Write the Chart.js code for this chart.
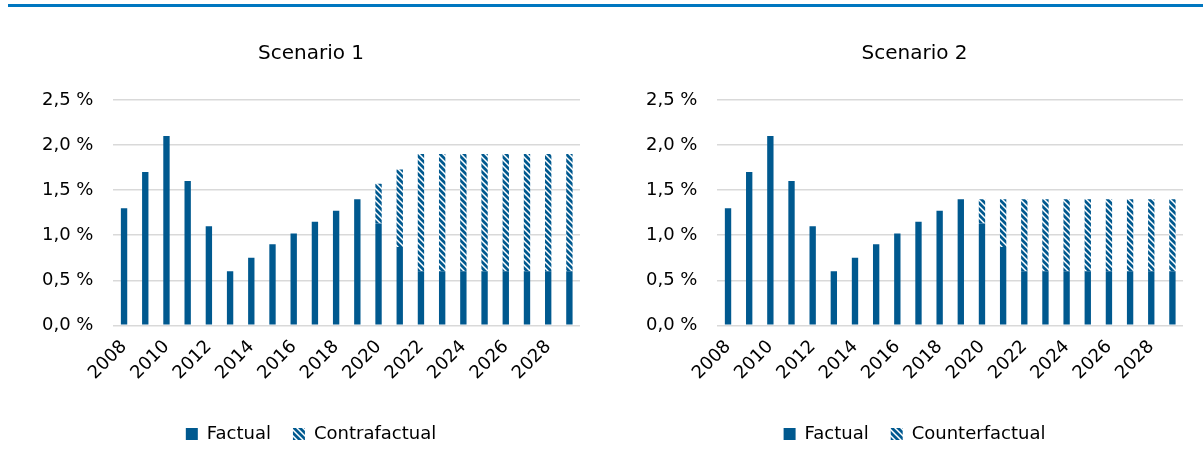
<!DOCTYPE html>
<html>
<head>
<meta charset="utf-8">
<script src="https://cdn.jsdelivr.net/npm/chart.js@4.4.1/dist/chart.umd.min.js"></script>
<style>
  html,body{margin:0;padding:0;background:#fff;}
  body{width:1203px;height:470px;position:relative;overflow:hidden;}
  .topline{position:absolute;left:8px;right:0;top:4px;height:3px;background:#0077c0;}
  .box{position:absolute;top:12px;height:455px;}
  #b1{left:34px;width:568px;}
  #b2{left:638px;width:565px;}
</style>
</head>
<body>
<div class="topline"></div>
<div class="box" id="b1"><canvas id="c1"></canvas></div>
<div class="box" id="b2"><canvas id="c2"></canvas></div>
<script>
// data (values in %)
const years = ['2008','2009','2010','2011','2012','2013','2014','2015','2016','2017','2018',
  '2019','2020','2021','2022','2023','2024','2025','2026','2027','2028','2029'];
const factual = [1.3,1.7,2.1,1.6,1.1,0.6,0.75,0.9,1.02,1.15,1.27,1.4,1.13,0.87,0.6,0.6,0.6,0.6,0.6,0.6,0.6,0.6];
// counterfactual totals (top of the striped part)
const contraTotal1 = [null,null,null,null,null,null,null,null,null,null,null,null,1.57,1.73,1.9,1.9,1.9,1.9,1.9,1.9,1.9,1.9];
const contraTotal2 = [null,null,null,null,null,null,null,null,null,null,null,null,1.4,1.4,1.4,1.4,1.4,1.4,1.4,1.4,1.4,1.4];
const yTicks = [0,0.5,1,1.5,2,2.5];

const BLUE = '#00598f';
const FONT = '"DejaVu Sans", sans-serif';

// blue/white diagonal stripes going "\"
function stripes(){
  const s = 6, c = document.createElement('canvas');
  c.width = s; c.height = s;
  const g = c.getContext('2d');
  g.fillStyle = '#fff'; g.fillRect(0,0,s,s);
  g.strokeStyle = BLUE; g.lineWidth = 2.8;
  g.beginPath();
  g.moveTo(-1,-1); g.lineTo(s+1,s+1);
  g.moveTo(s-1,-1); g.lineTo(s+1,1);
  g.moveTo(-1,s-1); g.lineTo(1,s+1);
  g.stroke();
  return g.createPattern(c,'repeat');
}

function mk(id, title, contraLabel, totals, padR){
  const extra = totals.map((v,i)=> v==null ? null : +(v - factual[i]).toFixed(3));
  return new Chart(document.getElementById(id), {
    type:'bar',
    data:{ labels:years, datasets:[
      { label:'Factual', data:factual, backgroundColor:BLUE, barPercentage:0.3, categoryPercentage:1 },
      { label:contraLabel, data:extra, backgroundColor:stripes(), barPercentage:0.3, categoryPercentage:1 }
    ]},
    options:{
      responsive:true, maintainAspectRatio:false, animation:false,
      layout:{ padding:{ left:8, right:padR, bottom:14 } },
      plugins:{
        title:{ display:true, text:title, color:'#000', font:{ family:FONT, size:20, weight:'normal' }, padding:{ top:30, bottom:34 } },
        legend:{ position:'bottom', labels:{ color:'#000', boxWidth:12, boxHeight:12, padding:22, font:{ family:FONT, size:18 } } },
        tooltip:{ enabled:false }
      },
      scales:{
        x:{ stacked:true,
            grid:{ display:false },
            border:{ display:false },
            afterFit:s=>{ s.height += 16; },
            ticks:{ color:'#000', font:{ family:FONT, size:18 }, autoSkip:false, maxRotation:45, minRotation:45,
                    callback:(v,i)=> i%2===0 ? years[i] : '' } },
        y:{ stacked:true, min:0, max:2.5,
            afterBuildTicks:ax=>{ ax.ticks = yTicks.map(v=>({value:v})); },
            afterFit:s=>{ s.width -= 20; },
            grid:{ color:'#d9d9d9', lineWidth:1.5, drawTicks:false },
            border:{ display:false },
            ticks:{ color:'#000', padding:20, font:{ family:FONT, size:18 },
                    callback:v=> v.toFixed(1).replace('.',',') + ' %' } }
      }
    }
  });
}

mk('c1','Scenario 1','Contrafactual',contraTotal1,22);
mk('c2','Scenario 2','Counterfactual',contraTotal2,20);
</script>
</body>
</html>
